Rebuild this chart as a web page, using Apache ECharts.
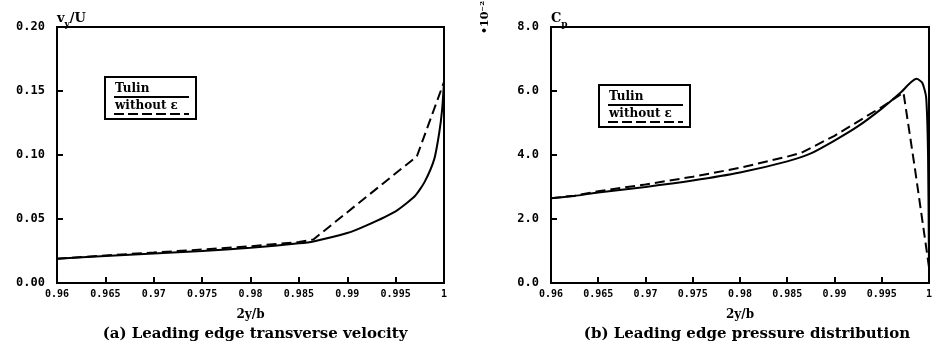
<!DOCTYPE html>
<html>
<head>
<meta charset="utf-8">
<script src="https://cdn.jsdelivr.net/npm/echarts@6/dist/echarts.min.js"></script>
<style>
  html, body { margin: 0; padding: 0; background: #fff; }
  #chart { width: 935px; height: 352px; }
</style>
</head>
<body>
<div id="chart"></div>
<script>
// x tick labels (same for both panels)
var xTicks = ['0.96', '0.965', '0.97', '0.975', '0.98', '0.985', '0.99', '0.995', '1'];

// (a) transverse velocity vy/U
var velTulinX = [0.96, 0.965, 0.97, 0.975, 0.98, 0.985, 0.9865, 0.99, 0.992, 0.995, 0.997, 0.998, 0.999, 0.9995, 0.9998, 1.0];
var velTulinY = [0.019, 0.021, 0.023, 0.025, 0.0275, 0.031, 0.0325, 0.039, 0.045, 0.056, 0.068, 0.079, 0.097, 0.117, 0.135, 0.157];
var velNoEpsX = [0.96, 0.965, 0.97, 0.975, 0.98, 0.985, 0.9865, 0.9972, 1.0];
var velNoEpsY = [0.019, 0.0215, 0.0238, 0.0262, 0.0287, 0.032, 0.034, 0.099, 0.157];

// (b) pressure Cp (x 10^-2)
var cpTulinX = [0.96, 0.9625, 0.965, 0.97, 0.975, 0.98, 0.985, 0.9875, 0.99, 0.9925, 0.995, 0.997, 0.998, 0.9987, 0.9993, 0.9997, 0.9999, 1.0];
var cpTulinY = [2.65, 2.72, 2.83, 3.0, 3.2, 3.45, 3.8, 4.05, 4.45, 4.9, 5.45, 5.95, 6.25, 6.38, 6.25, 5.8, 4.0, 0.55];
var cpNoEpsX = [0.96, 0.9625, 0.965, 0.97, 0.975, 0.98, 0.985, 0.9865, 0.99, 0.995, 0.9973, 0.9985, 1.0];
var cpNoEpsY = [2.65, 2.73, 2.87, 3.08, 3.32, 3.6, 3.95, 4.07, 4.6, 5.5, 5.95, 3.6, 0.5];

function pairs(xs, ys) {
	var out = [];
	for (var i = 0; i < xs.length; i++) out.push([xs[i], ys[i]]);
	return out;
}

var labelFont = 'DejaVu Sans Mono';
var serif = 'DejaVu Serif';

function xAxisOpt(idx) {
	return {
		type: 'value', gridIndex: idx, min: 0.96, max: 1, interval: 0.005,
		name: '2y/b', nameLocation: 'middle', nameGap: 26,
		nameTextStyle: { fontFamily: serif, fontWeight: 'bold', fontSize: 12, color: '#000' },
		axisLine: { lineStyle: { color: '#000', width: 2 } },
		axisTick: { inside: true, length: 6, lineStyle: { color: '#000', width: 2 } },
		splitLine: { show: false },
		axisLabel: {
			color: '#000', fontFamily: labelFont, fontWeight: 'bold', fontSize: 10, margin: 6,
			formatter: function (v) {
				var i = Math.round((v - 0.96) / 0.005);
				return xTicks[i] || '';
			}
		}
	};
}

function yAxisOpt(idx, max, interval, digits, nameRich) {
	return {
		type: 'value', gridIndex: idx, min: 0, max: max, interval: interval,
		name: nameRich, nameLocation: 'end', nameGap: 2,
		nameTextStyle: {
			align: 'left', verticalAlign: 'bottom', color: '#000',
			rich: {
				a: { fontFamily: serif, fontWeight: 'bold', fontSize: 13, color: '#000' },
				s: { fontFamily: serif, fontWeight: 'bold', fontSize: 9, color: '#000', verticalAlign: 'bottom', padding: [0, 0, -4, 0] }
			}
		},
		axisLine: { show: true, lineStyle: { color: '#000', width: 2 } },
		axisTick: { show: true, inside: true, length: 6, lineStyle: { color: '#000', width: 2 } },
		splitLine: { show: false },
		axisLabel: {
			color: '#000', fontFamily: labelFont, fontWeight: 'bold', fontSize: 12, margin: 12,
			formatter: function (v) { return v.toFixed(digits); }
		}
	};
}

function legendBox(x, y) {
	return {
		type: 'group', left: x, top: y,
		children: [
			{ type: 'rect', shape: { x: 0, y: 0, width: 91, height: 42 }, style: { fill: '#fff', stroke: '#000', lineWidth: 2 } },
			{ type: 'text', x: 10, y: 6, style: { text: 'Tulin', font: 'bold 12px "DejaVu Serif"', fill: '#000' } },
			{ type: 'line', shape: { x1: 9, y1: 20, x2: 84, y2: 20 }, style: { stroke: '#000', lineWidth: 2 } },
			{ type: 'text', x: 10, y: 23, style: { text: 'without ε', font: 'bold 12px "DejaVu Serif"', fill: '#000' } },
			{ type: 'line', shape: { x1: 9, y1: 37, x2: 84, y2: 37 }, style: { stroke: '#000', lineWidth: 2, lineDash: [10, 4] } }
		]
	};
}

var chart = echarts.init(document.getElementById('chart'));
var option = {
	backgroundColor: '#fff',
	animation: false,
	grid: [
		{ left: 57, top: 27, width: 387, height: 256, show: true, borderColor: '#000', borderWidth: 2, backgroundColor: 'transparent' },
		{ left: 551, top: 27, width: 381, height: 256, show: true, borderColor: '#000', borderWidth: 2, backgroundColor: 'transparent' }
	],
	xAxis: [xAxisOpt(0), xAxisOpt(1)],
	yAxis: [
		yAxisOpt(0, 0.2, 0.05, 2, '{a|v}{s|y}{a|/U}'),
		yAxisOpt(1, 8, 2, 1, '{a|C}{s|p}')
	],
	title: [
		{ text: '(a) Leading edge transverse velocity', left: 250, top: 322, textAlign: 'center',
		  textStyle: { fontFamily: serif, fontWeight: 'bold', fontSize: 15, color: '#000' } },
		{ text: '(b) Leading edge pressure distribution', left: 742, top: 322, textAlign: 'center',
		  textStyle: { fontFamily: serif, fontWeight: 'bold', fontSize: 15, color: '#000' } }
	],
	graphic: [
		legendBox(104, 76),
		legendBox(598, 84),
		{ type: 'text', x: 480, y: 34, rotation: Math.PI / 2,
		  style: { text: '•10⁻²', font: 'bold 11px "DejaVu Serif"', fill: '#000' } }
	],
	series: [
		{ name: 'Tulin', type: 'line', xAxisIndex: 0, yAxisIndex: 0, data: pairs(velTulinX, velTulinY),
		  smooth: 0.2, showSymbol: false, lineStyle: { color: '#000', width: 2 } },
		{ name: 'without ε', type: 'line', xAxisIndex: 0, yAxisIndex: 0, data: pairs(velNoEpsX, velNoEpsY),
		  showSymbol: false, lineStyle: { color: '#000', width: 2, type: [10, 5] } },
		{ name: 'Tulin', type: 'line', xAxisIndex: 1, yAxisIndex: 1, data: pairs(cpTulinX, cpTulinY),
		  smooth: 0.2, showSymbol: false, lineStyle: { color: '#000', width: 2 } },
		{ name: 'without ε', type: 'line', xAxisIndex: 1, yAxisIndex: 1, data: pairs(cpNoEpsX, cpNoEpsY),
		  showSymbol: false, lineStyle: { color: '#000', width: 2, type: [10, 5] } }
	]
};
chart.setOption(option);
</script>
</body>
</html>
